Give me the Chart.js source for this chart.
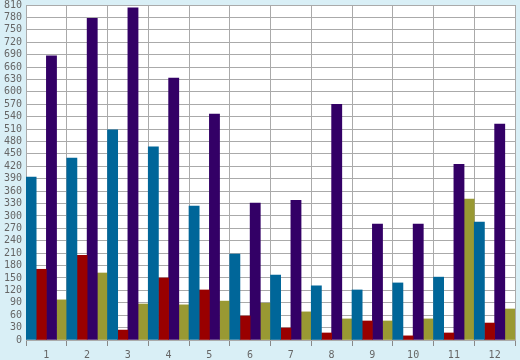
<!DOCTYPE html>
<html>
<head>
<meta charset="utf-8">
<script src="https://cdn.jsdelivr.net/npm/chart.js@4/dist/chart.umd.min.js"></script>
<style>
  body { margin: 0; background: #d9eff6; }
  canvas { display: block; }
</style>
</head>
<body>
<canvas id="myBarChart" width="520" height="360"></canvas>
<script>
const categories = ['1', '2', '3', '4', '5', '6', '7', '8', '9', '10', '11', '12'];
const blueValues = [394, 440, 508, 467, 324, 208, 157, 131, 121, 138, 152, 285];
const redValues = [171, 205, 24, 150, 121, 58, 29, 17, 46, 10, 17, 41];
const purpleValues = [687, 778, 803, 633, 546, 331, 338, 570, 280, 280, 425, 522];
const oliveValues = [97, 162, 87, 85, 94, 89, 68, 51, 46, 51, 341, 75];

// white plot area on the light blue page
const plotBackground = {
    id: 'plotBackground',
    beforeDraw(chart) {
        const { ctx, chartArea } = chart;
        ctx.save();
        ctx.fillStyle = '#ffffff';
        ctx.fillRect(chartArea.left, chartArea.top, chartArea.width, chartArea.height);
        ctx.restore();
    }
};

document.addEventListener("DOMContentLoaded", function () {
    const ctx = document.getElementById('myBarChart').getContext('2d');
    const series = [
        { data: blueValues, color: '#006699' },
        { data: redValues, color: '#990000' },
        { data: purpleValues, color: '#330066' },
        { data: oliveValues, color: '#999933' }
    ];
    new Chart(ctx, {
        type: 'bar',
        data: {
            labels: categories,
            datasets: series.map(s => ({
                data: s.data,
                backgroundColor: s.color,
                borderWidth: 0,
                categoryPercentage: 1,
                barPercentage: 1
            }))
        },
        options: {
            responsive: false,
            animation: false,
            layout: { padding: { top: 5, right: 5, left: 0, bottom: 0 } },
            plugins: {
                legend: { display: false },
                tooltip: { enabled: false }
            },
            scales: {
                x: {
                    grid: { color: '#aaaaaa', lineWidth: 1, tickLength: 6, tickColor: '#888888' },
                    border: { color: '#aaaaaa' },
                    ticks: { autoSkip: false, maxRotation: 0, color: '#666666', font: { family: 'DejaVu Sans Mono', size: 10 }, padding: 3 },
                    afterFit(scale) {
                        scale.height = 20;
                        scale.paddingLeft = 0;
                        scale.paddingRight = 0;
                    }
                },
                y: {
                    min: 0,
                    max: 810,
                    grid: { color: '#aaaaaa', lineWidth: 1, drawTicks: false },
                    border: { color: '#aaaaaa' },
                    ticks: { autoSkip: false, stepSize: 30, color: '#666666', font: { family: 'DejaVu Sans Mono', size: 10 }, padding: 4 },
                    afterFit(scale) {
                        scale.width = 26;
                        scale.paddingTop = 0;
                        scale.paddingBottom = 0;
                    }
                }
            }
        },
        plugins: [plotBackground]
    });
});
</script>
</body>
</html>
